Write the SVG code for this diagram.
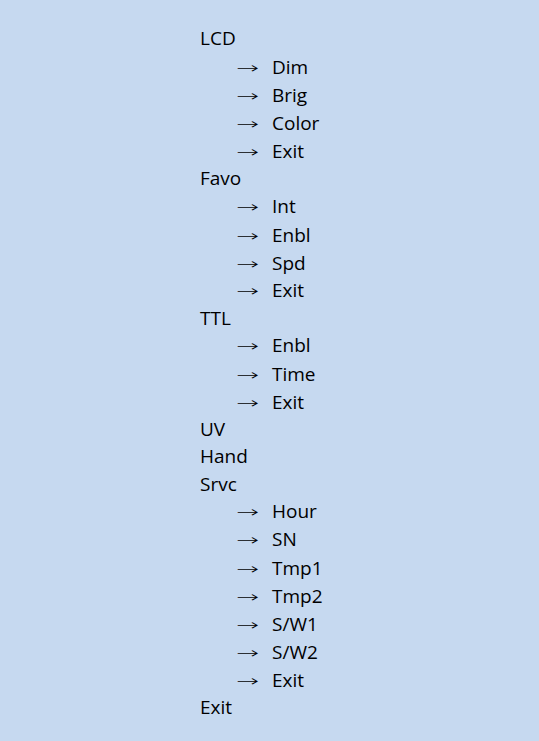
<svg xmlns="http://www.w3.org/2000/svg" width="539" height="741" viewBox="0 0 539 741">
<style>
text{font-family:"Open Sans","Liberation Sans",sans-serif;font-size:19px;fill:#000}
.a{font-family:"DejaVu Sans",sans-serif;font-size:15px;font-weight:200}
</style>
<rect width="539" height="741" fill="#c6d9f0"/>
<g id="lcd"><text x="200" y="45">LCD</text></g>
<g id="lcd-items">
<text class="a" x="236" y="73" textLength="23" lengthAdjust="spacingAndGlyphs">→</text><text x="272" y="74">Dim</text>
<text class="a" x="236" y="101" textLength="23" lengthAdjust="spacingAndGlyphs">→</text><text x="272" y="102">Brig</text>
<text class="a" x="236" y="129" textLength="23" lengthAdjust="spacingAndGlyphs">→</text><text x="272" y="130">Color</text>
<text class="a" x="236" y="157" textLength="23" lengthAdjust="spacingAndGlyphs">→</text><text x="272" y="158">Exit</text>
</g>
<g id="favo"><text x="200" y="185">Favo</text></g>
<g id="favo-items">
<text class="a" x="236" y="212" textLength="23" lengthAdjust="spacingAndGlyphs">→</text><text x="272" y="213">Int</text>
<text class="a" x="236" y="241" textLength="23" lengthAdjust="spacingAndGlyphs">→</text><text x="272" y="242">Enbl</text>
<text class="a" x="236" y="269" textLength="23" lengthAdjust="spacingAndGlyphs">→</text><text x="272" y="270">Spd</text>
<text class="a" x="236" y="296" textLength="23" lengthAdjust="spacingAndGlyphs">→</text><text x="272" y="297">Exit</text>
</g>
<g id="ttl"><text x="200" y="325">TTL</text></g>
<g id="ttl-items">
<text class="a" x="236" y="351" textLength="23" lengthAdjust="spacingAndGlyphs">→</text><text x="272" y="352">Enbl</text>
<text class="a" x="236" y="380" textLength="23" lengthAdjust="spacingAndGlyphs">→</text><text x="272" y="381">Time</text>
<text class="a" x="236" y="408" textLength="23" lengthAdjust="spacingAndGlyphs">→</text><text x="272" y="409">Exit</text>
</g>
<g id="uv"><text x="200" y="436">UV</text></g>
<g id="hand"><text x="200" y="463">Hand</text></g>
<g id="srvc"><text x="200" y="491">Srvc</text></g>
<g id="srvc-items">
<text class="a" x="236" y="517" textLength="23" lengthAdjust="spacingAndGlyphs">→</text><text x="272" y="518">Hour</text>
<text class="a" x="236" y="545" textLength="23" lengthAdjust="spacingAndGlyphs">→</text><text x="272" y="546">SN</text>
<text class="a" x="236" y="574" textLength="23" lengthAdjust="spacingAndGlyphs">→</text><text x="272" y="575">Tmp1</text>
<text class="a" x="236" y="602" textLength="23" lengthAdjust="spacingAndGlyphs">→</text><text x="272" y="603">Tmp2</text>
<text class="a" x="236" y="630" textLength="23" lengthAdjust="spacingAndGlyphs">→</text><text x="272" y="631">S/W1</text>
<text class="a" x="236" y="658" textLength="23" lengthAdjust="spacingAndGlyphs">→</text><text x="272" y="659">S/W2</text>
<text class="a" x="236" y="686" textLength="23" lengthAdjust="spacingAndGlyphs">→</text><text x="272" y="687">Exit</text>
</g>
<g id="exit"><text x="200" y="714">Exit</text></g>
</svg>
